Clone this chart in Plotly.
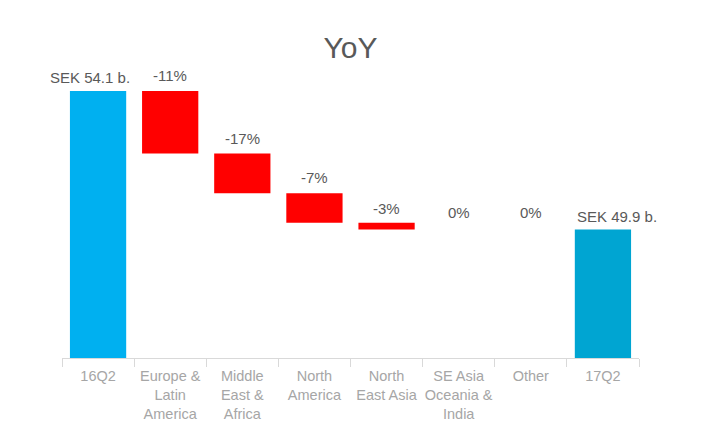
import plotly.graph_objects as go

categories = ["16Q2", "Europe &<br>Latin<br>America", "Middle<br>East &<br>Africa", "North<br>America",
              "North<br>East Asia", "SE Asia<br>Oceania &<br>India", "Other", "17Q2"]
measures = ["absolute", "relative", "relative", "relative", "relative", "relative", "relative", "absolute"]
values = [54.1, -1.9, -1.2, -0.9, -0.2, 0.0, 0.0, 49.9]
labels = ["SEK 54.1 b.", "-11%", "-17%", "-7%", "-3%", "0%", "0%", "SEK 49.9 b."]
colors = ["#00B0F0", "#FF0000", "#FF0000", "#FF0000", "#FF0000", "#FF0000", "#FF0000", "#00A5D2"]

# label placement offsets (pixels), styling only
label_dx = [-8, 0, 0, 0, 0, 0, 0, 14]
label_dy = [3, 5, 5, 5, 4, 6, 6, 2]

bases, heights, tops = [], [], []
running = 0.0
for m, v in zip(measures, values):
    if m == "absolute":
        bases.append(0.0)
        heights.append(v)
        running = v
        tops.append(v)
    else:
        bases.append(running)
        heights.append(v)
        tops.append(max(running, running + v))
        running += v

fig = go.Figure()
fig.add_trace(go.Bar(x=categories, y=heights, base=bases, marker=dict(color=colors, line_width=0),
                     width=0.78, showlegend=False, hoverinfo="skip"))

for c, t, lab, dx, dy in zip(categories, tops, labels, label_dx, label_dy):
    fig.add_annotation(x=c, y=t, text=lab, showarrow=False, yanchor="bottom", xshift=dx, yshift=dy,
                       font=dict(family="Liberation Sans, Arial", size=15, color="#595959"))

fig.update_layout(
    width=714, height=443,
    margin=dict(l=62, r=75, t=60, b=85, autoexpand=False),
    paper_bgcolor="white", plot_bgcolor="white",
    title=dict(text="YoY", x=0.5, xref="paper", xanchor="center", y=0.893, yanchor="middle",
               font=dict(family="Liberation Sans, Arial", size=30, color="#595959")),
    bargap=0.22,
    font=dict(family="Liberation Sans, Arial"),
)
fig.update_xaxes(showline=True, linecolor="#D9D9D9", linewidth=1, ticks="outside", tickson="boundaries",
                 ticklen=8, tickcolor="#D9D9D9", tickfont=dict(size=14.5, color="#A6A6A6"),
                 ticklabelstandoff=5, range=[-0.5, len(categories) - 0.5], autorange=False,
                 showgrid=False, tickangle=0, automargin=False)
fig.update_yaxes(range=[46, 55.04], visible=False, showgrid=False, automargin=False)

fig.write_html("out.html", config={"displayModeBar": False},
               post_script="document.documentElement.style.overflow='hidden';"
                           "document.body.style.margin='0';document.body.style.overflow='hidden';")
